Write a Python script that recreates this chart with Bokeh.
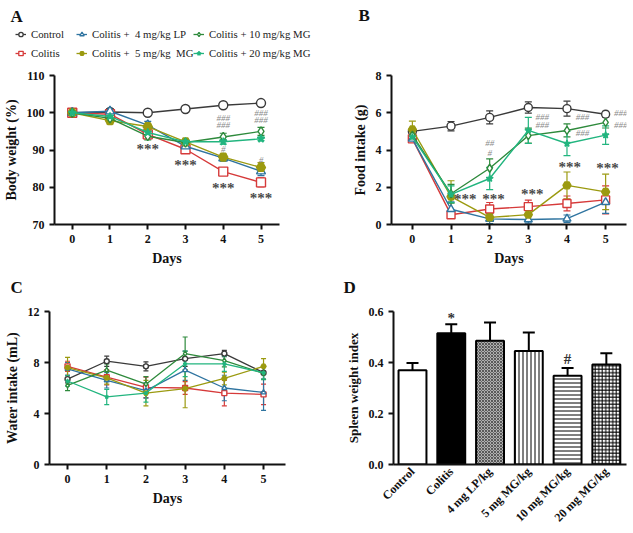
import math
from bokeh.plotting import figure
from bokeh.layouts import column, row
from bokeh.models import (ColumnDataSource, Whisker, TeeHead, Legend, LegendItem,
                          FixedTicker, Range1d)
from bokeh.core.properties import value
from bokeh.embed import file_html
from bokeh.resources import INLINE

# ---------------- data ----------------
days = [0, 1, 2, 3, 4, 5]
groups = ["Control", "Colitis", "Colitis +  4 mg/kg LP", "Colitis +  5 mg/kg  MG",
          "Colitis + 10 mg/kg MG", "Colitis + 20 mg/kg MG"]

# A: body weight (%)
bw_ctrl = [100, 100.2, 100.0, 101.0, 102.0, 102.6]
bw_col = [100, 99.6, 94.2, 90.2, 84.2, 81.3]
bw_lp = [100, 100.4, 96.7, 91.0, 87.8, 84.3]
bw_mg5 = [100, 97.9, 96.3, 92.2, 88.1, 85.3]
bw_mg10 = [100, 98.5, 93.7, 92.0, 93.5, 95.0]
bw_mg20 = [100, 99.0, 94.7, 92.2, 92.2, 93.0]
bw_ctrl_e = [0.3, 0.3, 0.3, 0.3, 0.3, 0.3]
bw_col_e = [0.3, 0.6, 0.6, 0.6, 0.7, 1.2]
bw_lp_e = [0.3, 0.6, 1.0, 0.6, 0.8, 1.2]
bw_mg5_e = [0.3, 0.9, 0.7, 0.6, 0.8, 1.3]
bw_mg10_e = [0.3, 0.6, 1.0, 0.6, 1.0, 1.1]
bw_mg20_e = [0.3, 0.5, 0.7, 0.6, 0.6, 0.5]

# B: food intake (g)
fi_ctrl = [5.0, 5.28, 5.75, 6.28, 6.22, 5.92]
fi_col = [4.6, 0.52, 0.83, 0.96, 1.13, 1.32]
fi_lp = [4.6, 0.82, 0.30, 0.27, 0.31, 1.20]
fi_mg5 = [5.1, 1.50, 0.38, 0.53, 2.10, 1.75]
fi_mg10 = [4.8, 1.65, 3.02, 4.77, 5.05, 5.48]
fi_mg20 = [4.7, 1.62, 2.47, 5.05, 4.35, 4.80]
fi_ctrl_e = [0.1, 0.25, 0.35, 0.3, 0.4, 0.15]
fi_col_e = [0.15, 0.1, 0.35, 0.35, 0.4, 0.75]
fi_lp_e = [0.15, 0.4, 0.25, 0.2, 0.2, 0.6]
fi_mg5_e = [0.45, 0.85, 0.2, 0.3, 0.72, 0.95]
fi_mg10_e = [0.3, 0.5, 0.5, 0.4, 0.35, 0.3]
fi_mg20_e = [0.2, 0.45, 0.6, 0.7, 0.65, 0.5]

# C: water intake (mL)
wi_ctrl = [6.7, 8.1, 7.7, 8.3, 8.7, 7.2]
wi_col = [7.7, 6.85, 6.05, 6.0, 5.6, 5.5]
wi_lp = [7.5, 6.6, 5.8, 7.4, 6.0, 5.65]
wi_mg5 = [7.6, 6.8, 5.6, 5.95, 6.75, 7.7]
wi_mg10 = [6.2, 7.4, 6.3, 8.7, 8.15, 7.15]
wi_mg20 = [6.55, 5.3, 5.6, 7.9, 7.9, 7.2]
wi_ctrl_e = [0.3, 0.4, 0.35, 0.6, 0.25, 0.5]
wi_col_e = [0.4, 0.6, 0.8, 0.5, 1.0, 0.8]
wi_lp_e = [0.5, 0.6, 0.6, 0.8, 1.0, 1.4]
wi_mg5_e = [0.8, 0.5, 1.0, 1.5, 0.5, 0.6]
wi_mg10_e = [0.4, 0.5, 0.6, 1.3, 0.5, 0.5]
wi_mg20_e = [0.4, 0.6, 0.7, 1.0, 0.6, 0.5]

# D: spleen weight index
bar_groups = ["Control", "Colitis", "4 mg LP/kg", "5 mg MG/kg", "10 mg MG/kg", "20 mg MG/kg"]
spleen = [0.370, 0.515, 0.485, 0.445, 0.348, 0.392]
spleen_e = [0.028, 0.035, 0.072, 0.073, 0.030, 0.044]

# significance marks (x, y in data units)
a_star_x = [2, 3, 4, 5]
a_star_y = [90.2, 86.0, 79.9, 77.0]
a_hash_x = [4, 4, 4, 5, 5, 5]
a_hash_y = [98.6, 96.6, 90.2, 100.0, 98.0, 87.4]
a_hash_t = ["###", "###", "#", "###", "###", "#"]
b_star_x = [1.37, 2.1, 3.1, 4.07, 5.05]
b_star_y = [1.35, 1.35, 1.65, 3.1, 3.05]
b_hash_x = [2.0, 2.0, 3.36, 3.36, 4.4, 4.4, 5.39, 5.39]
b_hash_y = [4.37, 3.84, 5.77, 5.32, 5.77, 4.93, 5.98, 5.32]
b_hash_t = ["##", "#", "###", "###", "###", "###", "###", "###"]
d_mark_x = [1, 4]
d_mark_y = [0.575, 0.415]
d_mark_t = ["*", "#"]

# panel letters (strip coordinates, pixels from strip's top-left)
letters_top = ["A", "B"]
letters_top_x = [10, 358]
letters_top_y = [16, 15]
letters_bot = ["C", "D"]
letters_bot_x = [10, 343]
letters_bot_y = [19, 19]

colors = ["#3a3a3a", "#d63a3a", "#2f74a0", "#9b9a10", "#2e8a3c", "#22b57f"]
markers = ["circle", "square", "triangle", "hex", "diamond", "star"]
fills = ["white", "white", "white", None, "white", None]

SERIF = "Liberation Serif"


def style(p):
    p.outline_line_color = None
    p.xgrid.visible = False
    p.ygrid.visible = False
    p.background_fill_color = None
    p.border_fill_color = "white"
    for ax in (p.xaxis[0], p.yaxis[0]):
        ax.axis_line_width = 2
        ax.axis_line_color = "#111111"
        ax.major_tick_line_width = 2
        ax.major_tick_line_color = "#111111"
        ax.major_tick_out = 5
        ax.major_tick_in = 0
        ax.minor_tick_line_color = None
        ax.major_label_text_font = SERIF
        ax.major_label_text_font_style = "bold"
        ax.major_label_text_font_size = "12px"
        ax.major_label_text_color = "#111111"
        ax.axis_label_text_font = SERIF
        ax.axis_label_text_font_style = "bold"
        ax.axis_label_text_font_size = "14px"
        ax.axis_label_text_color = "#111111"


def strip_fig(width, height):
    p = figure(width=width, height=height, output_backend="svg", toolbar_location=None,
               x_range=Range1d(0, width), y_range=Range1d(height, 0),
               x_axis_type=None, y_axis_type=None, min_border=0)
    p.outline_line_color = None
    p.xgrid.visible = False
    p.ygrid.visible = False
    p.border_fill_color = "white"
    p.background_fill_color = "white"
    return p


def letters(p, xs, ys, ts):
    src = ColumnDataSource(dict(x=xs, y=ys, t=ts))
    p.text("x", "y", text="t", source=src, text_font=value(SERIF), text_font_size="17px",
           text_font_style="bold", text_color="#111111", text_align="left",
           text_baseline="middle")


def msize(k, size):
    return size - 1 if markers[k] == "star" else size


def series(p, ys, es, k, size, lw=1.4, head=7):
    c = colors[k]
    src = ColumnDataSource(dict(x=days, y=ys, lo=[a - b for a, b in zip(ys, es)],
                                hi=[a + b for a, b in zip(ys, es)]))
    p.add_layout(Whisker(source=src, base="x", lower="lo", upper="hi", line_color=c,
                         line_width=1.2,
                         lower_head=TeeHead(size=head, line_color=c, line_width=1.2),
                         upper_head=TeeHead(size=head, line_color=c, line_width=1.2)))
    lr = p.line("x", "y", source=src, line_color=c, line_width=lw)
    fc = fills[k] if fills[k] is not None else c
    sr = p.scatter("x", "y", source=src, marker=markers[k], size=msize(k, size),
                   line_color=c, fill_color=fc, line_width=1.4)
    return [lr, sr]


def line_fig(width, height, yr, xr, borders, ylabel, yticks):
    l, r, t, b = borders
    p = figure(width=width, height=height, output_backend="svg", toolbar_location=None,
               x_range=Range1d(*xr), y_range=Range1d(*yr),
               min_border_left=l, min_border_right=r, min_border_top=t, min_border_bottom=b)
    style(p)
    p.xaxis.ticker = FixedTicker(ticks=days)
    p.yaxis.ticker = FixedTicker(ticks=yticks)
    p.xaxis.axis_label = "Days"
    p.yaxis.axis_label = ylabel
    return p


def add_text(p, xs, ys, ts, size, color, style_="bold", baseline="middle"):
    src = ColumnDataSource(dict(x=xs, y=ys, t=ts))
    p.text("x", "y", text="t", source=src, text_font=value(SERIF), text_font_size=size,
           text_color=color, text_font_style=style_, text_align="center",
           text_baseline=baseline)


# ---------------- top strip: letters A, B and legend ----------------
top = strip_fig(633, 62)
letters(top, letters_top_x, letters_top_y, letters_top)
leg_src = ColumnDataSource(dict(x=[float("nan")], y=[float("nan")]))
leg_rend = []
for k in range(6):
    c = colors[k]
    fc = fills[k] if fills[k] is not None else c
    lr = top.line("x", "y", source=leg_src, line_color=c, line_width=1.3)
    sr = top.scatter("x", "y", source=leg_src, marker=markers[k], size=msize(k, 8),
                     line_color=c, fill_color=fc, line_width=1.3)
    leg_rend.append([lr, sr])
legend_x = [15, 76, 193]
for col in range(3):
    items = [LegendItem(label=groups[2 * col + j], renderers=leg_rend[2 * col + j]) for j in range(2)]
    lg = Legend(items=items, location=(legend_x[col], 2), orientation="vertical",
                border_line_color=None, background_fill_alpha=0, padding=0, margin=0,
                spacing=5, glyph_width=11, glyph_height=14, label_standoff=5,
                label_text_font=SERIF, label_text_font_size="10.8px", label_height=14,
                label_text_color="#222222")
    top.add_layout(lg, "center")

# ---------------- Panel A ----------------
pA = line_fig(316, 206, (70, 110), (-0.47, 5.49), (49, 37, 13, 41),
              "Body weight (%)", [70, 80, 90, 100, 110])
A_sets = [(bw_ctrl, bw_ctrl_e), (bw_col, bw_col_e), (bw_lp, bw_lp_e),
          (bw_mg5, bw_mg5_e), (bw_mg10, bw_mg10_e), (bw_mg20, bw_mg20_e)]
for k, (ys, es) in enumerate(A_sets):
    series(pA, ys, es, k, 9)
add_text(pA, a_star_x, a_star_y, ["***"] * len(a_star_x), "15px", "#4a4a4a")
add_text(pA, a_hash_x, a_hash_y, a_hash_t, "9px", "#8a8a8a", "italic")

# ---------------- Panel B ----------------
pB = line_fig(317, 206, (0, 8), (-0.54, 5.54), (75, 7, 13, 41),
              "Food intake (g)", [0, 2, 4, 6, 8])
B_sets = [(fi_ctrl, fi_ctrl_e), (fi_col, fi_col_e), (fi_lp, fi_lp_e),
          (fi_mg5, fi_mg5_e), (fi_mg10, fi_mg10_e), (fi_mg20, fi_mg20_e)]
for k, (ys, es) in enumerate(B_sets):
    series(pB, ys, es, k, 8)
add_text(pB, b_star_x, b_star_y, ["***"] * len(b_star_x), "15px", "#4a4a4a")
add_text(pB, b_hash_x, b_hash_y, b_hash_t, "9px", "#8a8a8a", "italic")

# ---------------- middle strip: letters C, D ----------------
mid = strip_fig(633, 32)
letters(mid, letters_bot_x, letters_bot_y, letters_bot)

# ---------------- Panel C ----------------
pC = line_fig(316, 233, (0, 12), (-0.46, 5.56), (49, 31, 9, 69),
              "Water intake (mL)", [0, 4, 8, 12])
C_sets = [(wi_ctrl, wi_ctrl_e), (wi_col, wi_col_e), (wi_lp, wi_lp_e),
          (wi_mg5, wi_mg5_e), (wi_mg10, wi_mg10_e), (wi_mg20, wi_mg20_e)]
for k, (ys, es) in enumerate(C_sets):
    series(pC, ys, es, k, 5, lw=1.3, head=5)

# ---------------- Panel D ----------------
bar_x = list(range(len(bar_groups)))
pD = figure(width=317, height=233, output_backend="svg", toolbar_location=None,
            x_range=Range1d(-0.49, 5.52), y_range=Range1d(0, 0.6),
            min_border_left=77, min_border_right=7, min_border_top=11, min_border_bottom=69)
style(pD)
pD.yaxis.ticker = FixedTicker(ticks=[0.0, 0.2, 0.4, 0.6])
pD.yaxis.major_label_overrides = {0.0: "0.0", 0.2: "0.2", 0.4: "0.4", 0.6: "0.6", 0: "0.0"}
pD.yaxis.axis_label = "Spleen weight index"
pD.yaxis.axis_label_text_font_size = "13px"
pD.xaxis.ticker = FixedTicker(ticks=bar_x)
pD.xaxis.major_label_overrides = {i: g for i, g in enumerate(bar_groups)}
pD.xaxis.major_label_orientation = math.pi / 4
pD.xaxis.major_tick_out = 0

bar_src = ColumnDataSource(dict(
    x=bar_x, top=spleen, hi=[a + b for a, b in zip(spleen, spleen_e)],
    fill=["white", "black", "#b0b0b0", "white", "white", "white"],
    hatch=[" ", " ", "x", "|", "-", "+"],
    hscale=[4, 4, 3, 4, 4, 3.5],
    hcolor=["black", "black", "#333333", "black", "black", "black"],
    hweight=[1, 1, 0.7, 1, 1, 1],
))
pD.add_layout(Whisker(source=bar_src, base="x", lower="top", upper="hi", line_color="black",
                      line_width=2, lower_head=None,
                      upper_head=TeeHead(size=12, line_color="black", line_width=2)))
pD.vbar(x="x", top="top", width=0.72, source=bar_src, fill_color="fill",
        hatch_pattern="hatch", hatch_color="hcolor", hatch_scale="hscale", hatch_weight="hweight",
        line_color="black", line_width=2)
add_text(pD, d_mark_x, d_mark_y, d_mark_t, "15px", "#333333")

layout = column(top, row(pA, pB), mid, row(pC, pD))
open("out.html", "w").write(file_html(layout, INLINE))
